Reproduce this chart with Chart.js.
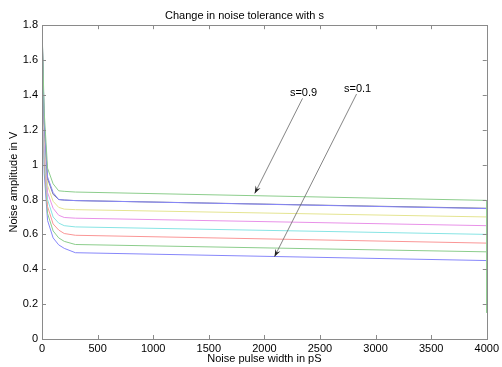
<!DOCTYPE html>
<html>
<head>
<meta charset="utf-8">
<script src="https://cdn.jsdelivr.net/npm/chart.js@4/dist/chart.umd.min.js"></script>
<style>
  html, body { margin: 0; padding: 0; background: #fff; }
  #wrap { width: 502px; height: 367px; }
</style>
</head>
<body>
<div id="wrap"><canvas id="noise"></canvas></div>
<script>
// pulse widths (pS) where each curve is sampled
const pulseWidth = [0, 20, 50, 100, 150, 200, 300, 4000];

// noise amplitude (V) for each s, bottom curve first
const amp_s01 = [1.8, 0.95, 0.68, 0.58, 0.54, 0.52, 0.495, 0.45];
const amp_s02 = [1.8, 1.00, 0.72, 0.62, 0.58, 0.56, 0.542, 0.50];
const amp_s03 = [1.8, 1.05, 0.76, 0.66, 0.625, 0.605, 0.595, 0.55];
const amp_s04 = [1.8, 1.10, 0.80, 0.70, 0.665, 0.65, 0.643, 0.60];
const amp_s05 = [1.8, 1.15, 0.84, 0.75, 0.71, 0.697, 0.693, 0.65];
const amp_s06 = [1.8, 1.20, 0.88, 0.79, 0.755, 0.745, 0.742, 0.70];
const amp_s07 = [1.8, 1.24, 0.92, 0.83, 0.80, 0.797, 0.794, 0.75];
const amp_s08 = [1.8, 1.25, 0.93, 0.84, 0.80, 0.797, 0.794, 0.748];
const amp_s09 = [1.8, 1.30, 0.98, 0.89, 0.85, 0.847, 0.843, 0.795];
// the s=0.9 trace falls off at the right edge
const s09EdgeDrop = 0.15;

const seriesS = ['0.1', '0.2', '0.3', '0.4', '0.5', '0.6', '0.7', '0.8', '0.9'];
const seriesAmp = [amp_s01, amp_s02, amp_s03, amp_s04, amp_s05, amp_s06, amp_s07, amp_s08, amp_s09];
const seriesColor = [
  'rgb(135,135,250)', 'rgb(140,205,140)', 'rgb(250,150,150)',
  'rgb(135,228,228)', 'rgb(232,145,232)', 'rgb(228,228,145)',
  'rgb(120,120,140)', 'rgb(135,135,250)', 'rgb(140,205,140)'
];

const xTicks = [0, 500, 1000, 1500, 2000, 2500, 3000, 3500, 4000];
const yTicks = [0, 0.2, 0.4, 0.6, 0.8, 1, 1.2, 1.4, 1.6, 1.8];

// annotations: label position, arrow start, arrow head (data units)
const noteText  = ['s=0.9', 's=0.1'];
const noteLabel = [[2352, 1.412], [2838, 1.437]];
const noteFrom  = [[2343, 1.38], [2829, 1.405]];
const noteTo    = [[1913, 0.835], [2091, 0.472]];

const FONT = '"Liberation Sans", Arial, Helvetica, sans-serif';

function buildDatasets() {
  return seriesS.map((s, i) => {
    const pts = pulseWidth.map((x, j) => ({ x, y: seriesAmp[i][j] }));
    if (s === '0.9') pts.push({ x: 4000, y: s09EdgeDrop });
    return {
      label: 's=' + s,
      data: pts,
      borderColor: seriesColor[i],
      borderWidth: 1,
      pointRadius: 0,
      tension: 0,
      fill: false,
      order: seriesS.length - 1 - i
    };
  });
}

// frame + inward ticks, matlab style
const framePlugin = {
  id: 'frame',
  afterDraw(chart) {
    const { ctx, chartArea: a, scales } = chart;
    ctx.save();
    ctx.strokeStyle = '#8a8a8a';
    ctx.lineWidth = 1;
    ctx.strokeRect(Math.round(a.left) + 0.5, Math.round(a.top) + 0.5,
      Math.round(a.right - a.left), Math.round(a.bottom - a.top));
    const t = 4;
    ctx.beginPath();
    for (const v of xTicks) {
      const px = Math.round(scales.x.getPixelForValue(v)) + 0.5;
      ctx.moveTo(px, a.bottom); ctx.lineTo(px, a.bottom - t);
      ctx.moveTo(px, a.top); ctx.lineTo(px, a.top + t);
    }
    for (const v of yTicks) {
      const py = Math.round(scales.y.getPixelForValue(v)) + 0.5;
      ctx.moveTo(a.left, py); ctx.lineTo(a.left + t, py);
      ctx.moveTo(a.right, py); ctx.lineTo(a.right - t, py);
    }
    ctx.stroke();
    ctx.restore();
  }
};

const notePlugin = {
  id: 'notes',
  afterDatasetsDraw(chart) {
    const { ctx, scales } = chart;
    ctx.save();
    ctx.font = '11px ' + FONT;
    ctx.textAlign = 'center';
    ctx.textBaseline = 'middle';
    for (let i = 0; i < noteText.length; i++) {
      const lx = scales.x.getPixelForValue(noteLabel[i][0]);
      const ly = scales.y.getPixelForValue(noteLabel[i][1]);
      ctx.fillStyle = '#000';
      ctx.fillText(noteText[i], lx, ly);

      const x0 = scales.x.getPixelForValue(noteFrom[i][0]);
      const y0 = scales.y.getPixelForValue(noteFrom[i][1]);
      const x1 = scales.x.getPixelForValue(noteTo[i][0]);
      const y1 = scales.y.getPixelForValue(noteTo[i][1]);
      ctx.strokeStyle = '#666';
      ctx.lineWidth = 0.8;
      ctx.beginPath();
      ctx.moveTo(x0, y0); ctx.lineTo(x1, y1);
      ctx.stroke();
      // arrow head
      const ang = Math.atan2(y1 - y0, x1 - x0);
      const len = 8, wid = 0.35;
      ctx.fillStyle = '#222';
      ctx.beginPath();
      ctx.moveTo(x1, y1);
      ctx.lineTo(x1 - len * Math.cos(ang - wid), y1 - len * Math.sin(ang - wid));
      ctx.lineTo(x1 - len * 0.6 * Math.cos(ang), y1 - len * 0.6 * Math.sin(ang));
      ctx.lineTo(x1 - len * Math.cos(ang + wid), y1 - len * Math.sin(ang + wid));
      ctx.closePath();
      ctx.fill();
    }
    ctx.restore();
  }
};

new Chart(document.getElementById('noise'), {
  type: 'line',
  data: { datasets: buildDatasets() },
  options: {
    responsive: true,
    maintainAspectRatio: false,
    animation: false,
    layout: { padding: { left: 0, right: 13, top: 0, bottom: 0 } },
    plugins: {
      legend: { display: false },
      tooltip: { enabled: false },
      title: {
        display: true,
        text: 'Change in noise tolerance with s',
        color: '#000',
        font: { family: FONT, size: 11, weight: 'normal' },
        padding: { top: 9, bottom: 3 }
      }
    },
    scales: {
      x: {
        type: 'linear',
        min: 0, max: 4000,
        afterBuildTicks(s) { s.ticks = xTicks.map(v => ({ value: v })); },
        afterFit(s) { s.height = 28; },
        grid: { display: false, drawTicks: false },
        border: { display: false },
        ticks: {
          color: '#000', padding: 3, maxRotation: 0, autoSkip: false,
          font: { family: FONT, size: 11 },
          callback: v => String(v)
        },
        title: {
          display: true, text: 'Noise pulse width in pS', color: '#000',
          font: { family: FONT, size: 11 }, padding: { top: 0, bottom: 1 }
        }
      },
      y: {
        type: 'linear',
        min: 0, max: 1.8,
        afterBuildTicks(s) { s.ticks = yTicks.map(v => ({ value: v })); },
        afterFit(s) { s.width = 42; },
        grid: { display: false, drawTicks: false },
        border: { display: false },
        ticks: {
          color: '#000', padding: 4, autoSkip: false,
          font: { family: FONT, size: 11 },
          callback: v => String(Math.round(v * 10) / 10)
        },
        title: {
          display: true, text: 'Noise amplitude in V', color: '#000',
          font: { family: FONT, size: 11 }, padding: { top: 7, bottom: 0 }
        }
      }
    }
  },
  plugins: [framePlugin, notePlugin]
});
</script>
</body>
</html>
